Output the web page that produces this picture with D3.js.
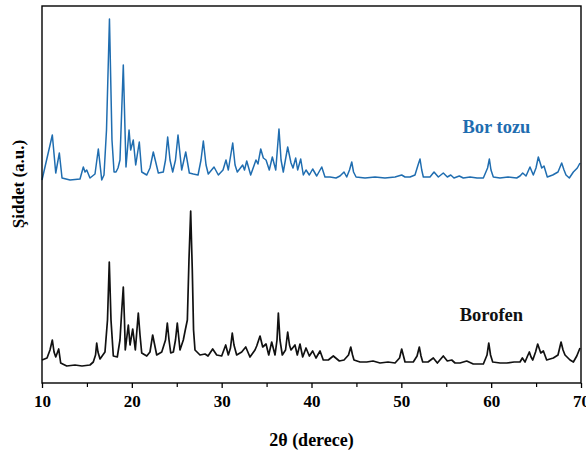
<!DOCTYPE html>
<html>
<head>
<meta charset="utf-8">
<script src="https://cdn.jsdelivr.net/npm/d3@7"></script>
<style>
  html, body { margin: 0; padding: 0; background: #fff; }
  svg text { font-family: "Liberation Serif", "Times New Roman", serif; font-weight: bold; }
</style>
</head>
<body>
<svg id="chart" width="586" height="454"></svg>
<script>
// ---- data ----
const xTicks = [10, 20, 30, 40, 50, 60, 70];
const xMinorTicks = [15, 25, 35, 45, 55, 65];
const seriesNames = ["Bor tozu", "Borofen"];
const seriesColors = ["#1f6db0", "#111111"];

// Bor tozu (offset upward, as plotted)
const borTozuX = [10.00,11.15,11.53,11.93,12.23,13.12,14.23,14.60,14.79,14.98,15.34,15.90,16.27,16.65,16.90,17.18,17.51,17.79,18.02,18.24,18.46,18.68,19.05,19.35,19.69,19.87,20.16,20.43,20.83,21.10,21.66,22.02,22.39,22.95,23.50,23.75,23.99,24.25,24.55,24.86,25.14,25.55,26.00,26.40,26.84,27.37,27.70,27.96,28.26,28.51,29.15,29.63,30.15,30.48,30.74,31.23,31.49,31.74,32.34,32.54,32.79,33.23,33.82,34.04,34.35,34.64,34.94,35.30,35.64,36.02,36.38,36.61,36.86,37.35,37.72,37.94,38.24,38.46,38.80,39.09,39.39,39.76,40.13,40.58,41.14,41.50,42.06,42.73,43.17,43.62,43.92,44.23,44.48,44.68,44.96,45.96,47.07,48.18,49.30,50.04,50.41,50.97,51.52,51.86,52.08,52.27,52.45,53.19,53.64,54.12,54.67,55.12,55.50,55.86,56.45,56.90,57.65,58.43,59.13,59.60,59.80,59.98,60.24,60.98,61.88,62.84,63.21,63.51,63.88,64.32,64.69,64.99,65.25,65.63,65.88,66.25,66.85,67.44,67.85,68.11,68.33,68.70,69.15,69.59,69.89];
const borTozuY = [203,248,210,230,205,203,204,216,211,213,205,209,234,203,208,253,364,243,211,211,215,223,318,216,253,233,243,218,241,211,208,215,231,210,211,223,246,223,211,223,248,213,231,210,209,208,223,242,218,209,216,208,213,223,213,240,218,211,218,213,222,208,223,219,234,225,223,213,226,213,254,223,211,236,220,215,225,213,224,208,213,208,214,207,216,206,206,205,207,211,206,213,221,211,206,205,206,205,206,208,206,206,208,218,224,213,206,206,211,206,210,206,208,205,207,205,206,205,205,215,224,213,206,205,206,205,207,210,207,216,208,215,226,215,217,206,208,211,220,213,208,205,211,215,220];

// Borofen
const borofenX = [10.00,10.56,10.89,11.15,11.34,11.53,11.86,12.08,12.75,13.67,14.45,15.34,15.71,15.96,16.09,16.23,16.46,17.01,17.29,17.49,17.68,17.94,18.38,18.68,18.88,19.05,19.18,19.27,19.61,19.80,20.10,20.39,20.72,20.91,21.10,21.66,22.02,22.32,22.77,23.33,23.75,23.95,24.14,24.33,24.62,24.86,25.06,25.25,25.36,25.73,25.95,26.18,26.36,26.55,26.73,26.87,27.03,27.59,28.15,28.48,29.00,29.45,30.00,30.45,30.74,30.98,31.18,31.37,31.67,32.23,32.68,33.15,33.71,33.90,34.27,34.57,34.94,35.24,35.57,35.94,36.16,36.31,36.49,36.75,37.11,37.35,37.55,37.72,38.16,38.42,38.72,39.02,39.39,39.76,40.13,40.50,40.95,41.31,41.87,42.43,43.10,43.62,44.12,44.37,44.57,44.73,45.40,46.15,46.85,47.63,48.52,49.30,49.80,50.04,50.24,50.41,51.33,51.75,52.00,52.19,52.38,52.97,53.56,54.01,54.67,55.12,55.61,55.98,56.53,57.28,58.01,59.13,59.54,59.73,59.93,60.17,60.99,61.73,62.55,63.21,63.47,63.77,64.05,64.25,64.44,64.63,64.94,65.18,65.52,65.81,66.18,66.55,66.92,67.44,67.78,68.00,68.22,68.78,69.15,69.53,69.89];
const borofenY = [23,25,33,43,31,26,34,20,17,18,17,18,21,28,40,31,24,31,63,121,63,27,26,43,73,96,63,33,58,38,54,33,70,48,30,27,31,48,28,31,43,60,43,30,31,43,60,43,33,43,53,63,123,172,113,53,33,28,29,27,34,28,27,38,28,35,50,38,28,31,36,26,33,37,47,36,39,28,41,28,43,70,43,28,33,51,38,33,38,28,39,26,35,27,32,25,32,23,23,27,22,23,28,36,28,23,21,21,22,20,21,20,25,34,27,21,21,27,36,27,21,21,25,20,27,22,23,20,20,22,19,19,28,40,28,21,20,20,21,21,25,21,27,31,26,23,31,39,30,32,23,24,25,28,41,33,28,23,21,27,35];

const xDomain = [10, 70];
const yDomain = [0, 377];

// ---- layout ----
const svg = d3.select("#chart");
const plot = { left: 42, right: 581, top: 6, bottom: 383 };

const x = d3.scaleLinear().domain(xDomain).range([plot.left, plot.right]);
const y = d3.scaleLinear().domain(yDomain).range([plot.bottom, plot.top]);

const line = d3.line()
  .x(d => x(d[0]))
  .y(d => y(d[1]))
  .curve(d3.curveLinear);

const series = [
  d3.zip(borTozuX, borTozuY),
  d3.zip(borofenX, borofenY)
];

svg.selectAll("path.series")
  .data(series)
  .join("path")
  .attr("class", "series")
  .attr("fill", "none")
  .attr("stroke", (d, i) => seriesColors[i])
  .attr("stroke-width", (d, i) => i === 0 ? 1.5 : 1.7)
  .attr("stroke-linejoin", "round")
  .attr("d", line);

// frame
svg.append("rect")
  .attr("x", plot.left).attr("y", plot.top)
  .attr("width", plot.right - plot.left)
  .attr("height", plot.bottom - plot.top)
  .attr("fill", "none")
  .attr("stroke", "#000")
  .attr("stroke-width", 1.4);

// bottom axis: major ticks
const xAxis = d3.axisBottom(x).tickValues(xTicks).tickSize(5).tickPadding(7).tickFormat(d3.format("d"));
const gx = svg.append("g").attr("transform", `translate(0,${plot.bottom})`).call(xAxis);
gx.select(".domain").remove();
gx.selectAll(".tick line").attr("stroke", "#000").attr("stroke-width", 1.3);
gx.selectAll(".tick text")
  .attr("fill", "#000")
  .style("font-family", '"Liberation Serif", "Times New Roman", serif')
  .style("font-weight", "bold")
  .style("font-size", "17px");

// minor ticks
const xAxisMinor = d3.axisBottom(x).tickValues(xMinorTicks).tickSize(4).tickFormat("");
const gxm = svg.append("g").attr("transform", `translate(0,${plot.bottom})`).call(xAxisMinor);
gxm.select(".domain").remove();
gxm.selectAll(".tick line").attr("stroke", "#000").attr("stroke-width", 1.2);

// axis titles
svg.append("text")
  .attr("x", (plot.left + plot.right) / 2)
  .attr("y", 446)
  .attr("text-anchor", "middle")
  .style("font-size", "18px")
  .attr("fill", "#000")
  .text("2θ (derece)");

svg.append("text")
  .attr("transform", "translate(24,184) rotate(-90)")
  .attr("text-anchor", "middle")
  .style("font-size", "17px")
  .attr("fill", "#000")
  .text("Şiddet (a.u.)");

// series labels
svg.append("text")
  .attr("x", x(56.8)).attr("y", y(250))
  .style("font-size", "18.5px")
  .attr("fill", seriesColors[0])
  .text(seriesNames[0]);

svg.append("text")
  .attr("x", x(56.5)).attr("y", y(62))
  .style("font-size", "18.5px")
  .attr("fill", seriesColors[1])
  .text(seriesNames[1]);
</script>
</body>
</html>
